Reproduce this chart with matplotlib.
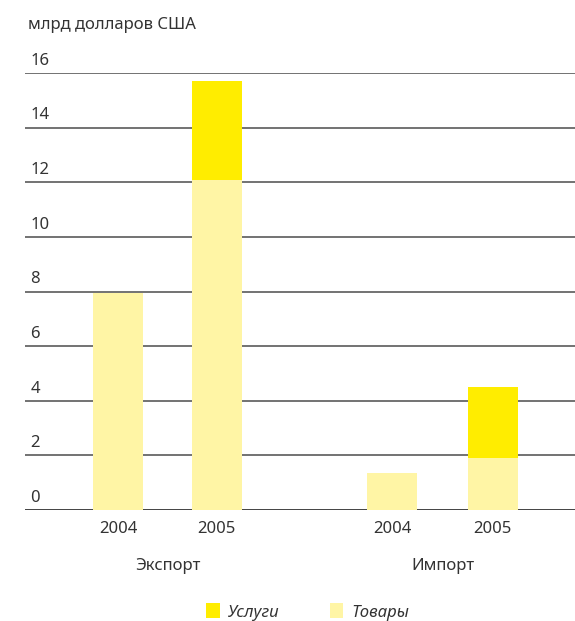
import matplotlib
matplotlib.use("Agg")
import matplotlib.pyplot as plt
import matplotlib.transforms as mtransforms
import numpy as np

# values in billion US$
groups = ["Экспорт", "Импорт"]
years = ["2004", "2005"]
goods = [7.95, 12.1, 1.35, 1.9]      # Товары
services = [0.0, 3.6, 0.0, 2.6]      # Услуги
yticks = [0, 2, 4, 6, 8, 10, 12, 14, 16]

C_SERV = "#FFED00"
C_GOODS = "#FFF5A5"
TXT = "#333333"

plt.rcParams["font.family"] = ["Noto Sans", "DejaVu Sans"]

fig = plt.figure(figsize=(5.75, 6.21), dpi=100)
ax = fig.add_axes([25 / 575, 1 - 510 / 621, 550 / 575, (510 - 73) / 621])

# bar centres: two bars per group, wide gap between groups
x = np.array([0.0, 1.0, 2.77, 3.79])
w = 0.5
ax.bar(x, goods, width=w, color=C_GOODS, zorder=3, label="Товары")
ax.bar(x, services, width=w, bottom=goods, color=C_SERV, zorder=3,
       label="Услуги")

ax.set_xlim(-0.94, 4.62)
ax.set_ylim(0, 16)
for v in yticks:
    ax.axhline(v, color="#5a5a5a" if v else "#222222", lw=1.2, zorder=1)
    ax.text(0.01, v, str(v), transform=mtransforms.offset_copy(
        ax.get_yaxis_transform(), fig=fig, y=3, units="points"),
        ha="left", va="bottom", fontsize=12, color=TXT)

ax.set_xticks([])
ax.set_yticks([])
for s in ax.spines.values():
    s.set_visible(False)

# year labels and group labels
for i, xi in enumerate(x):
    ax.text(xi, -19 / 27.3, years[i % 2], ha="center", va="center",
            fontsize=12, color=TXT)
for g, name in enumerate(groups):
    ax.text(x[2 * g:2 * g + 2].mean(), -56 / 27.3, name, ha="center",
            va="center", fontsize=12, color=TXT)

fig.text(28 / 575, 1 - 25 / 621, "млрд долларов США", ha="left",
         va="center", fontsize=12, color=TXT)

h, l = ax.get_legend_handles_labels()
fig.legend(h[::-1], l[::-1], loc="center", bbox_to_anchor=(0.535, 1 - 612 / 621),
           ncol=2, frameon=False, handlelength=0.8, handleheight=1.0,
           columnspacing=3.0, handletextpad=0.5,
           prop={"size": 12, "style": "italic"}, labelcolor=TXT)

fig.savefig("out.png", dpi=100)
